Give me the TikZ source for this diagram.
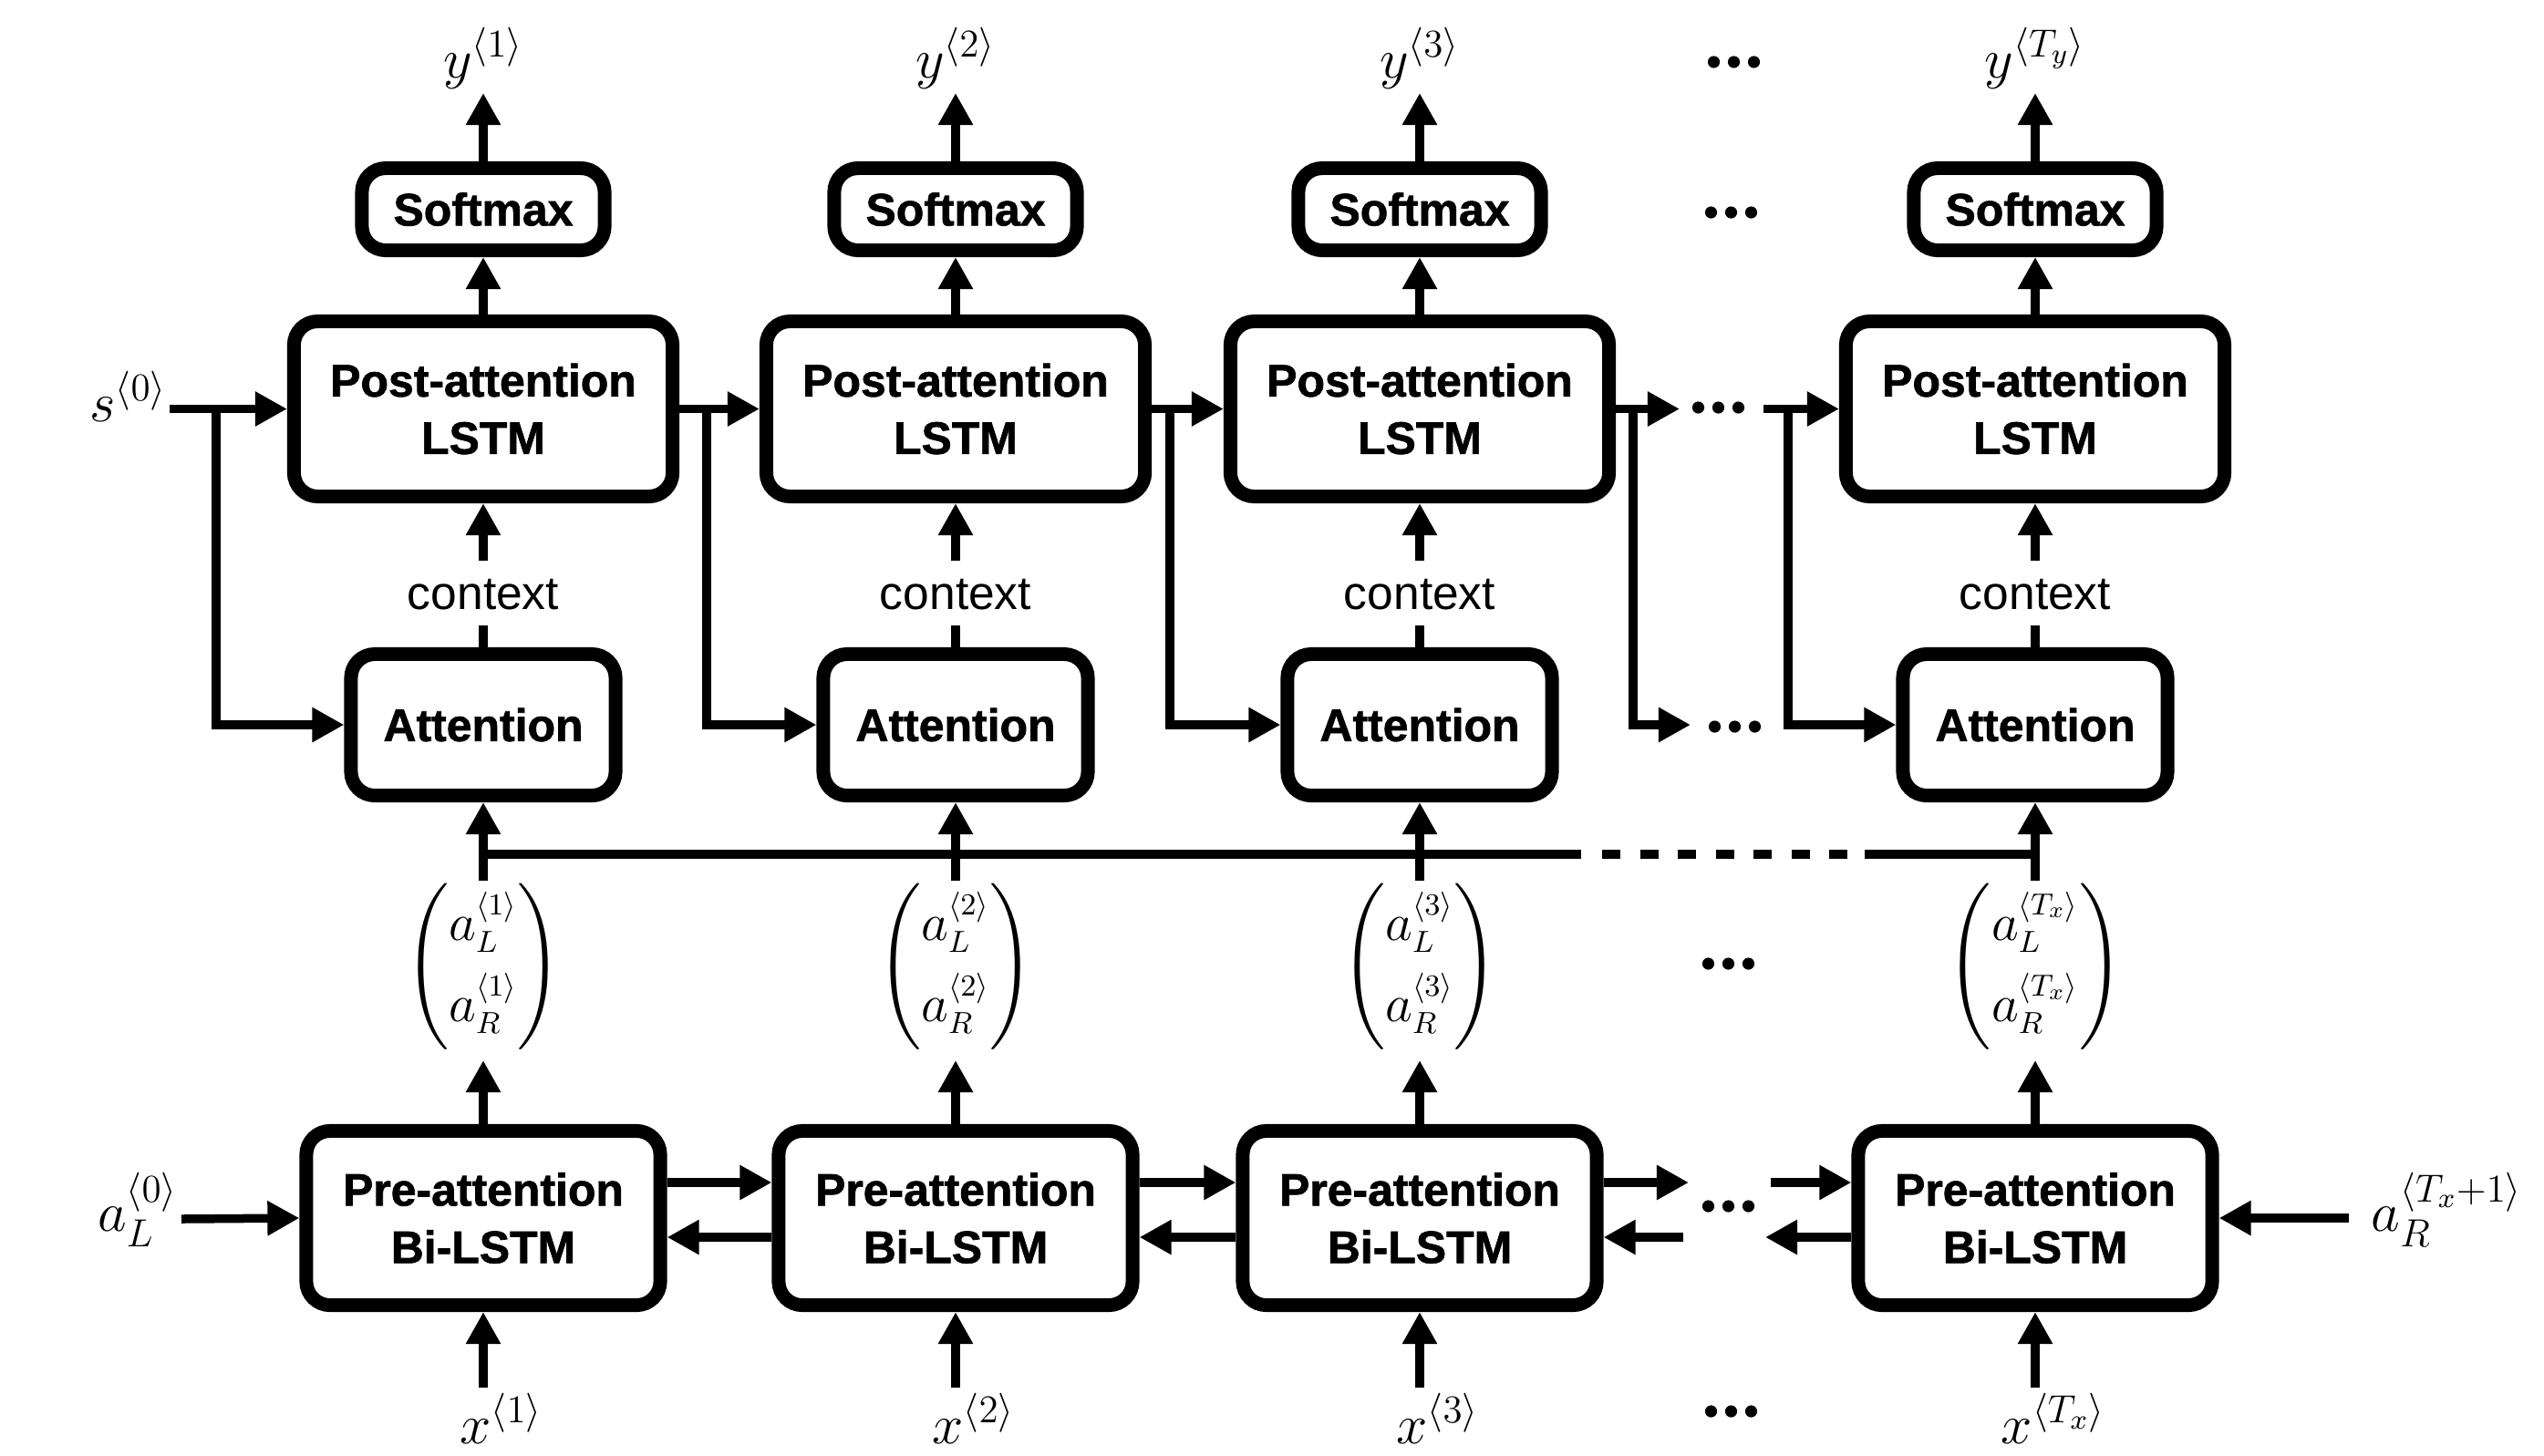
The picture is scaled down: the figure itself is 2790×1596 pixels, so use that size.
\RequirePackage{fix-cm}
\documentclass[tikz,border=0pt]{standalone}
\usepackage{amsmath}
\usepackage{fontspec}
\newfontfamily\lsans{Liberation Sans}[BoldFeatures={FakeBold=1.3}]
\DeclareMathSizes{16.5}{16.5}{9.5}{7}
\usetikzlibrary{arrows.meta}
\newcommand\threedots[2]{\foreach \k in {0,1,2}{\fill ({#1+6.5+22*\k},#2) circle[radius=0.066cm];}}
\newcommand\avec[1]{\left(\begin{matrix}a_L^{\langle #1\rangle}\\[4.3pt] a_R^{\langle #1\rangle}\end{matrix}\right)}
\begin{document}
\begin{tikzpicture}[x=0.01cm,y=-0.01cm,
  box/.style={draw, line width=0.15cm, rounded corners=0.26cm, align=center, inner sep=0pt,
    font=\lsans\bfseries\fontsize{14.2}{17.9}\selectfont},
  conn/.style={line width=0.095cm, -{Triangle[length=0.35cm,width=0.36cm]}},
  plain/.style={line width=0.095cm},
  lab/.style={inner sep=0pt, font=\fontsize{17.5}{21}\selectfont},
  vlab/.style={inner sep=0pt, font=\fontsize{16.5}{19.8}\selectfont},
  ctx/.style={inner sep=0pt, anchor=base, font=\lsans\fontsize{14.65}{17}\selectfont}]
\useasboundingbox (0,0) rectangle (2790,1596);
% boxes
\foreach \n/\c in {1/530,2/1048,3/1557,4/2232}{
  \node[box, minimum width=2.66cm, minimum height=0.90cm] (sm\n) at (\c,229.5) {Softmax};
  \node[box, minimum width=4.15cm, minimum height=1.92cm] (post\n) at (\c,448.5) {Post-attention\\LSTM};
  \node[box, minimum width=2.90cm, minimum height=1.55cm] (att\n) at (\c,795) {Attention};
  \node[box, minimum width=3.88cm, minimum height=1.91cm] (pre\n) at (\c,1336) {Pre-attention\\Bi-LSTM};
  \node[ctx] (ctx\n) at (\c,668) {context};
  \coordinate (ytip\n) at (\c,102);
  \coordinate (ctxlo\n) at (\c,686);
  \coordinate (ctxhi\n) at (\c,615);
  \coordinate (avbot\n) at (\c,1163);
  \coordinate (avtop\n) at (\c,966);
  \coordinate (xin\n) at (\c,1522);
  \draw[conn] (sm\n.north) -- (ytip\n);
  \draw[conn] (post\n.north) -- (sm\n.south);
  \draw[conn] (ctxhi\n) -- (post\n.south);
  \draw[plain] (att\n.north) -- (ctxlo\n);
  \draw[conn] (avtop\n) -- (att\n.south);
  \draw[conn] (pre\n.north) -- (avbot\n);
  \draw[conn] (xin\n) -- (pre\n.south);
}
% output labels
\node[lab, anchor=base] (y1) at (530,85) {$y^{\langle 1\rangle}$};
\node[lab, anchor=base] (y2) at (1048,85) {$y^{\langle 2\rangle}$};
\node[lab, anchor=base] (y3) at (1557,85) {$y^{\langle 3\rangle}$};
\node[lab, anchor=base] (y4) at (2232,85) {$y^{\langle T_y\rangle}$};
% input labels
\node[lab, anchor=base] (x1) at (550,1583) {$x^{\langle 1\rangle}$};
\node[lab, anchor=base] (x2) at (1068,1583) {$x^{\langle 2\rangle}$};
\node[lab, anchor=base] (x3) at (1577,1583) {$x^{\langle 3\rangle}$};
\node[lab, anchor=base] (x4) at (2252,1583) {$x^{\langle T_x\rangle}$};
% activations
\node[vlab] (av1) at (530,1060) {$\avec{1}$};
\node[vlab] (av2) at (1048,1060) {$\avec{2}$};
\node[vlab] (av3) at (1557,1060) {$\avec{3}$};
\node[vlab] (av4) at (2232,1060) {$\avec{T_x}$};
% bus
\coordinate (busL) at (525.25,937);
\coordinate (busA) at (1734,937);
\coordinate (busB) at (1757,937);
\coordinate (busC) at (2026,937);
\coordinate (busD) at (2045,937);
\coordinate (busR) at (2232,937);
\draw[plain] (busL) -- (busA);
\draw[plain, dash pattern=on 0.2cm off 0.215cm] (busB) -- (busC);
\draw[plain] (busD) -- (busR);
% s0 and post chain
\node[lab, anchor=base east] (s0) at (184,462) {$s^{\langle 0\rangle}$};
\coordinate (s0out) at (186,448.5);
\coordinate (br1) at (237,448.5);
\coordinate (br2) at (775,448.5);
\coordinate (br3) at (1283,448.5);
\coordinate (br4) at (1791,448.5);
\coordinate (br5) at (1961,448.5);
\coordinate (pd1) at (1842,448.5);
\coordinate (pd2) at (1934,448.5);
\coordinate (ad1) at (1854,795);
\draw[conn] (s0out) -- (post1.west);
\draw[conn] (br1) |- (att1.west);
\draw[conn] (post1.east) -- (post2.west);
\draw[conn] (br2) |- (att2.west);
\draw[conn] (post2.east) -- (post3.west);
\draw[conn] (br3) |- (att3.west);
\draw[conn] (post3.east) -- (pd1);
\draw[conn] (br4) |- (ad1);
\draw[conn] (pd2) -- (post4.west);
\draw[conn] (br5) |- (att4.west);
% pre chain
\draw[conn] (pre1.east |- 0,1297) -- (pre2.west |- 0,1297);
\draw[conn] (pre2.west |- 0,1357) -- (pre1.east |- 0,1357);
\draw[conn] (pre2.east |- 0,1297) -- (pre3.west |- 0,1297);
\draw[conn] (pre3.west |- 0,1357) -- (pre2.east |- 0,1357);
\coordinate (pu1) at (1852,1297);
\coordinate (pl1) at (1846,1357);
\coordinate (pu2) at (1942,1297);
\coordinate (pl2) at (1936,1357);
\draw[conn] (pre3.east |- 0,1297) -- (pu1);
\draw[conn] (pl1) -- (pre3.east |- 0,1357);
\draw[conn] (pu2) -- (pre4.west |- 0,1297);
\draw[conn] (pre4.west |- 0,1357) -- (pl2);
\node[lab, anchor=base east] (aL0) at (196,1350) {$a_L^{\langle 0\rangle}$};
\node[lab, anchor=base west] (aRT) at (2600,1350) {$a_R^{\langle T_x+1\rangle}$};
\coordinate (aL0out) at (199,1337);
\coordinate (aRTout) at (2576,1336);
\draw[conn] (aL0out) -- (pre1.west);
\draw[conn] (aRTout) -- (pre4.east);
% dots
\threedots{1873}{68}
\threedots{1870}{233}
\threedots{1856}{447}
\threedots{1874}{797}
\threedots{1867}{1057}
\threedots{1867}{1323}
\threedots{1870}{1548}
\end{tikzpicture}
\end{document}
